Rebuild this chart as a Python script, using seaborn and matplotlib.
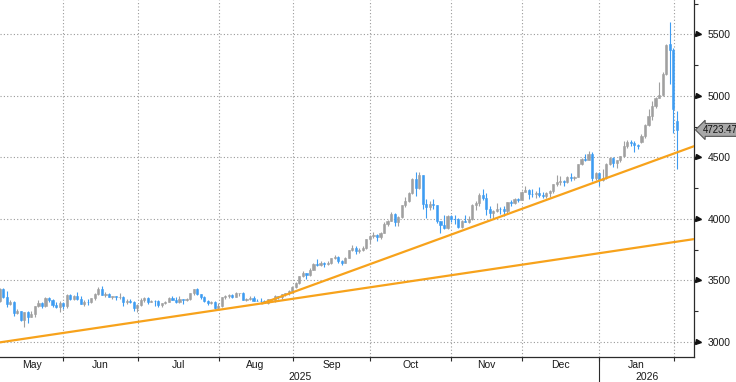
import numpy as np
import pandas as pd
import matplotlib
matplotlib.use("Agg")
import matplotlib.pyplot as plt
from matplotlib.ticker import MultipleLocator, FixedLocator, NullFormatter
from matplotlib.transforms import offset_copy
import seaborn as sns

# daily candles, weekdays 6 May 2025 - 2 Feb 2026 (no 25 Dec / 1 Jan)
first_day = "2025-05-06"
last_day = "2026-02-02"
holidays = ["2025-12-25", "2026-01-01"]

open_ = [
    3334, 3431, 3366, 3306, 3325, 3236, 3250, 3176, 3240, 3203, 3230, 3290, 3314, 3295, 3357, 3342, 3300, 3288, 3317,  # May
    3289, 3381, 3353, 3373, 3352, 3310, 3326, 3322, 3354, 3386, 3432, 3385, 3388, 3369, 3370, 3368, 3369, 3323, 3332, 3328, 3274,  # Jun
    3303, 3338, 3357, 3326, 3337, 3331, 3302, 3313, 3325, 3355, 3343, 3324, 3347, 3339, 3350, 3397, 3431, 3388, 3368, 3337, 3314, 3326, 3274,  # Jul
    3289, 3363, 3373, 3380, 3369, 3397, 3398, 3342, 3348, 3356, 3337, 3336, 3332, 3316, 3348, 3338, 3372, 3365, 3393, 3397, 3416,  # Aug
    3448, 3477, 3533, 3560, 3545, 3587, 3636, 3626, 3641, 3634, 3643, 3680, 3690, 3660, 3644, 3685, 3746, 3764, 3736, 3750, 3760, 3833,  # Sep
    3858, 3866, 3857, 3887, 3960, 3985, 4040, 3975, 4017, 4110, 4143, 4210, 4326, 4250, 4356, 4125, 4095, 4125, 4112, 3981, 3952, 3930, 4025,  # Oct
    4002, 4001, 3931, 3980, 3977, 4000, 4115, 4128, 4195, 4171, 4084, 4045, 4068, 4078, 4077, 4065, 4136, 4130, 4165, 4155,  # Nov
    4220, 4232, 4205, 4200, 4208, 4197, 4189, 4208, 4228, 4280, 4300, 4305, 4303, 4340, 4330, 4340, 4445, 4490, 4480, 4530, 4330, 4375,  # Dec
    4320, 4330, 4450, 4495, 4455, 4478, 4510, 4595, 4625, 4615, 4600, 4625, 4670, 4765, 4835, 4915, 4985, 5010, 5180, 5420, 5375, 4795,  # Jan/Feb
]
high = [
    3436, 3438, 3413, 3338, 3330, 3265, 3255, 3245, 3253, 3250, 3295, 3345, 3325, 3366, 3365, 3350, 3325, 3330, 3325,
    3392, 3392, 3385, 3403, 3375, 3340, 3349, 3360, 3398, 3446, 3452, 3403, 3398, 3376, 3375, 3398, 3370, 3347, 3350, 3329, 3309,
    3358, 3366, 3365, 3345, 3343, 3345, 3317, 3330, 3369, 3375, 3366, 3377, 3352, 3361, 3402, 3433, 3439, 3393, 3373, 3345, 3334, 3334, 3315,
    3366, 3385, 3390, 3391, 3409, 3400, 3404, 3358, 3375, 3375, 3346, 3358, 3345, 3350, 3351, 3378, 3376, 3394, 3398, 3423, 3454,
    3490, 3540, 3578, 3562, 3600, 3640, 3674, 3656, 3650, 3655, 3685, 3703, 3697, 3668, 3688, 3750, 3791, 3779, 3762, 3783, 3835, 3872,
    3895, 3876, 3890, 3977, 3990, 4059, 4045, 4023, 4116, 4179, 4218, 4330, 4380, 4381, 4360, 4161, 4146, 4161, 4114, 3985, 4030, 4030, 4031,
    4030, 4004, 3995, 4028, 4022, 4120, 4148, 4210, 4245, 4211, 4109, 4075, 4133, 4098, 4101, 4141, 4156, 4172, 4170, 4226,
    4264, 4240, 4241, 4225, 4260, 4218, 4218, 4236, 4285, 4353, 4350, 4315, 4350, 4375, 4350, 4448, 4497, 4525, 4550, 4540, 4380, 4380,
    4402, 4452, 4500, 4500, 4480, 4515, 4630, 4640, 4640, 4630, 4610, 4690, 4770, 4890, 4960, 4990, 5110, 5190, 5420, 5598, 5390, 4880,
]
low = [
    3324, 3360, 3288, 3300, 3208, 3229, 3171, 3121, 3154, 3200, 3204, 3285, 3278, 3287, 3323, 3285, 3275, 3245, 3271,
    3280, 3343, 3345, 3340, 3306, 3293, 3300, 3314, 3340, 3383, 3383, 3366, 3362, 3347, 3340, 3347, 3295, 3312, 3317, 3255, 3247,
    3296, 3328, 3311, 3323, 3296, 3287, 3283, 3310, 3322, 3341, 3320, 3319, 3310, 3333, 3345, 3383, 3381, 3351, 3325, 3302, 3308, 3268, 3268,
    3281, 3346, 3355, 3358, 3364, 3375, 3341, 3331, 3343, 3330, 3332, 3323, 3315, 3312, 3324, 3321, 3352, 3351, 3370, 3385, 3401,
    3436, 3470, 3525, 3511, 3540, 3581, 3620, 3620, 3613, 3625, 3635, 3675, 3645, 3628, 3640, 3680, 3740, 3717, 3722, 3742, 3757, 3793,
    3846, 3820, 3838, 3885, 3940, 3981, 3945, 3944, 4005, 4096, 4140, 4200, 4185, 4240, 4082, 4004, 4070, 4080, 3970, 3886, 3916, 3920, 3977,
    3962, 3929, 3930, 3975, 3968, 3995, 4075, 4102, 4155, 4033, 4011, 3998, 4055, 4039, 4022, 4042, 4106, 4125, 4140, 4150,
    4218, 4162, 4180, 4170, 4180, 4170, 4170, 4178, 4208, 4265, 4272, 4270, 4295, 4305, 4315, 4338, 4440, 4470, 4476, 4310, 4320, 4270,
    4312, 4328, 4440, 4420, 4410, 4460, 4505, 4580, 4595, 4545, 4570, 4620, 4660, 4755, 4800, 4905, 4980, 5000, 5170, 5100, 4700, 4402,
]
close = [
    3431, 3366, 3306, 3325, 3236, 3250, 3176, 3240, 3203, 3230, 3290, 3314, 3295, 3357, 3342, 3300, 3288, 3317, 3289,
    3381, 3353, 3373, 3352, 3310, 3326, 3322, 3354, 3386, 3432, 3385, 3388, 3369, 3370, 3368, 3369, 3323, 3332, 3328, 3274, 3303,
    3338, 3357, 3326, 3337, 3331, 3302, 3313, 3325, 3355, 3343, 3324, 3347, 3339, 3350, 3397, 3431, 3388, 3368, 3337, 3314, 3326, 3274, 3289,
    3363, 3373, 3380, 3369, 3397, 3398, 3342, 3348, 3356, 3336, 3336, 3332, 3316, 3348, 3338, 3372, 3365, 3393, 3397, 3416, 3448,
    3477, 3533, 3560, 3545, 3587, 3636, 3626, 3641, 3634, 3643, 3680, 3690, 3660, 3644, 3685, 3746, 3764, 3736, 3750, 3760, 3833, 3858,
    3866, 3857, 3887, 3960, 3985, 4040, 3975, 4017, 4110, 4143, 4210, 4326, 4250, 4356, 4125, 4095, 4125, 4112, 3981, 3952, 3930, 4025, 4002,
    4001, 3931, 3980, 3977, 4000, 4115, 4128, 4195, 4171, 4084, 4045, 4068, 4078, 4077, 4065, 4136, 4130, 4165, 4155, 4220,
    4232, 4205, 4200, 4208, 4197, 4189, 4208, 4228, 4280, 4300, 4305, 4303, 4340, 4330, 4340, 4445, 4490, 4480, 4530, 4330, 4375, 4320,
    4330, 4450, 4495, 4455, 4478, 4510, 4595, 4625, 4615, 4600, 4595, 4670, 4765, 4835, 4915, 4985, 5010, 5180, 5410, 5375, 4890, 4723.47,
]

# trendlines, (candle index, price) end points
trend_low_x = [0.1, 196.9]
trend_low_y = [2997, 3836]
trend_high_x = [74.4, 196.9]
trend_high_y = [3313, 4591]

yticks = [3000, 3500, 4000, 4500, 5000, 5500]

UP = "#a0a0a0"
DOWN = "#3d9cf2"
ORANGE = "#f7a21b"
GRID = "#9a9a9a"
INK = "#2b2b2b"

sns.set_theme(style="white")
plt.rcParams["font.family"] = ["Liberation Sans", "DejaVu Sans"]

dates = pd.bdate_range(first_day, last_day, freq="C", holidays=holidays)
df = pd.DataFrame({"date": dates, "open": open_, "high": high, "low": low, "close": close})
df["i"] = np.arange(len(df))
colors = np.where(df["close"] >= df["open"], UP, DOWN)

fig = plt.figure(figsize=(7.36, 3.82), dpi=100)
fig.patch.set_facecolor("white")
ax = fig.add_axes([0, 25 / 382, 694 / 736, 357 / 382])

x_left, x_right = 0.1, 196.9

# month boundaries
month_start = df.index[df["date"].dt.month != df["date"].dt.month.shift()].tolist()
bounds = [x_left] + [k - 0.9 for k in month_start[1:]] + [x_right]
starts_dates = df["date"].iloc[month_start]
centers, names = [], []
for j, d in enumerate(starts_dates):
    if bounds[j + 1] - bounds[j] > 10:
        centers.append((bounds[j] + bounds[j + 1]) / 2)
        names.append(d.strftime("%b"))

ax.grid(False)
for b in bounds[1:-1]:
    ax.axvline(b, color=GRID, lw=0.8, ls=(0, (1, 2)), zorder=0)
for v in yticks:
    ax.axhline(v, color=GRID, lw=0.8, ls=(0, (1, 2)), zorder=0)

ax.vlines(df["i"], df["low"], df["high"], colors=colors, lw=0.8, zorder=2)
ax.bar(df["i"], df["close"] - df["open"], bottom=df["open"], width=0.62,
       color=colors, edgecolor=colors, linewidth=0.4, zorder=3)

trend = pd.DataFrame({
    "x": trend_low_x + trend_high_x,
    "y": trend_low_y + trend_high_y,
    "line": ["low", "low", "high", "high"],
})
sns.lineplot(data=trend, x="x", y="y", hue="line", palette=[ORANGE, ORANGE],
             legend=False, lw=1.6, ax=ax, zorder=4)

ax.set_xlim(x_left, x_right)
ax.set_ylim(2878, 5779)
ax.set_xlabel("")
ax.set_ylabel("")

for s in ["left", "top"]:
    ax.spines[s].set_visible(False)
for s in ["right", "bottom"]:
    ax.spines[s].set_color(INK)
    ax.spines[s].set_linewidth(0.9)

# y axis on the right
ax.yaxis.tick_right()
ax.set_yticks(yticks)
ax.set_yticklabels([str(v) for v in yticks])
ax.yaxis.set_minor_locator(MultipleLocator(250))
ax.tick_params(axis="y", which="major", length=2, width=0.8, color=INK, pad=8,
               labelsize=7.5, labelcolor="#1a1a1a")
ax.tick_params(axis="y", which="minor", length=3, width=0.8, color=INK)
tri = offset_copy(ax.get_yaxis_transform(), fig=fig, x=2.6, units="points")
ax.plot([1.0] * len(yticks), yticks, transform=tri, ls="none", marker=">",
        ms=3.6, color="#111111", clip_on=False, zorder=5)

# last price tag
last = df["close"].iloc[-1]
tag = offset_copy(ax.get_yaxis_transform(), fig=fig, x=6.0, units="points")
ax.text(1.0, last, f"{last:.2f}", transform=tag, ha="left", va="center",
        fontsize=7, color="#111111", clip_on=False, zorder=6,
        family=["Liberation Sans Narrow", "Liberation Sans", "DejaVu Sans"],
        bbox=dict(boxstyle="larrow,pad=0.15", fc="#a8a8a8", ec="#555555", lw=0.8))

# x axis: month ticks at boundaries, names centred in each month
ax.xaxis.set_major_locator(FixedLocator(bounds[1:-1]))
ax.xaxis.set_major_formatter(NullFormatter())
ax.xaxis.set_minor_locator(FixedLocator(centers))
ax.set_xticklabels(names, minor=True)
ax.tick_params(axis="x", which="major", length=3, width=0.8, color=INK, bottom=True)
ax.tick_params(axis="x", which="minor", length=0, pad=2, labelsize=7.5,
               labelcolor="#1a1a1a", bottom=True)

# years, split at the first 2026 month
jan_idx = [d.year for d in starts_dates].index(2026)
year_b = bounds[jan_idx]
xt = ax.get_xaxis_transform()
ax.text((x_left + year_b) / 2, -0.055, "2025", transform=xt, ha="center", va="center",
        fontsize=7.5, color="#1a1a1a")
ax.text((year_b + x_right) / 2, -0.055, "2026", transform=xt, ha="center", va="center",
        fontsize=7.5, color="#1a1a1a")
ax.plot([year_b, year_b], [0, -0.075], transform=xt, color=INK, lw=0.8, clip_on=False)

fig.savefig("out.png", dpi=100)
